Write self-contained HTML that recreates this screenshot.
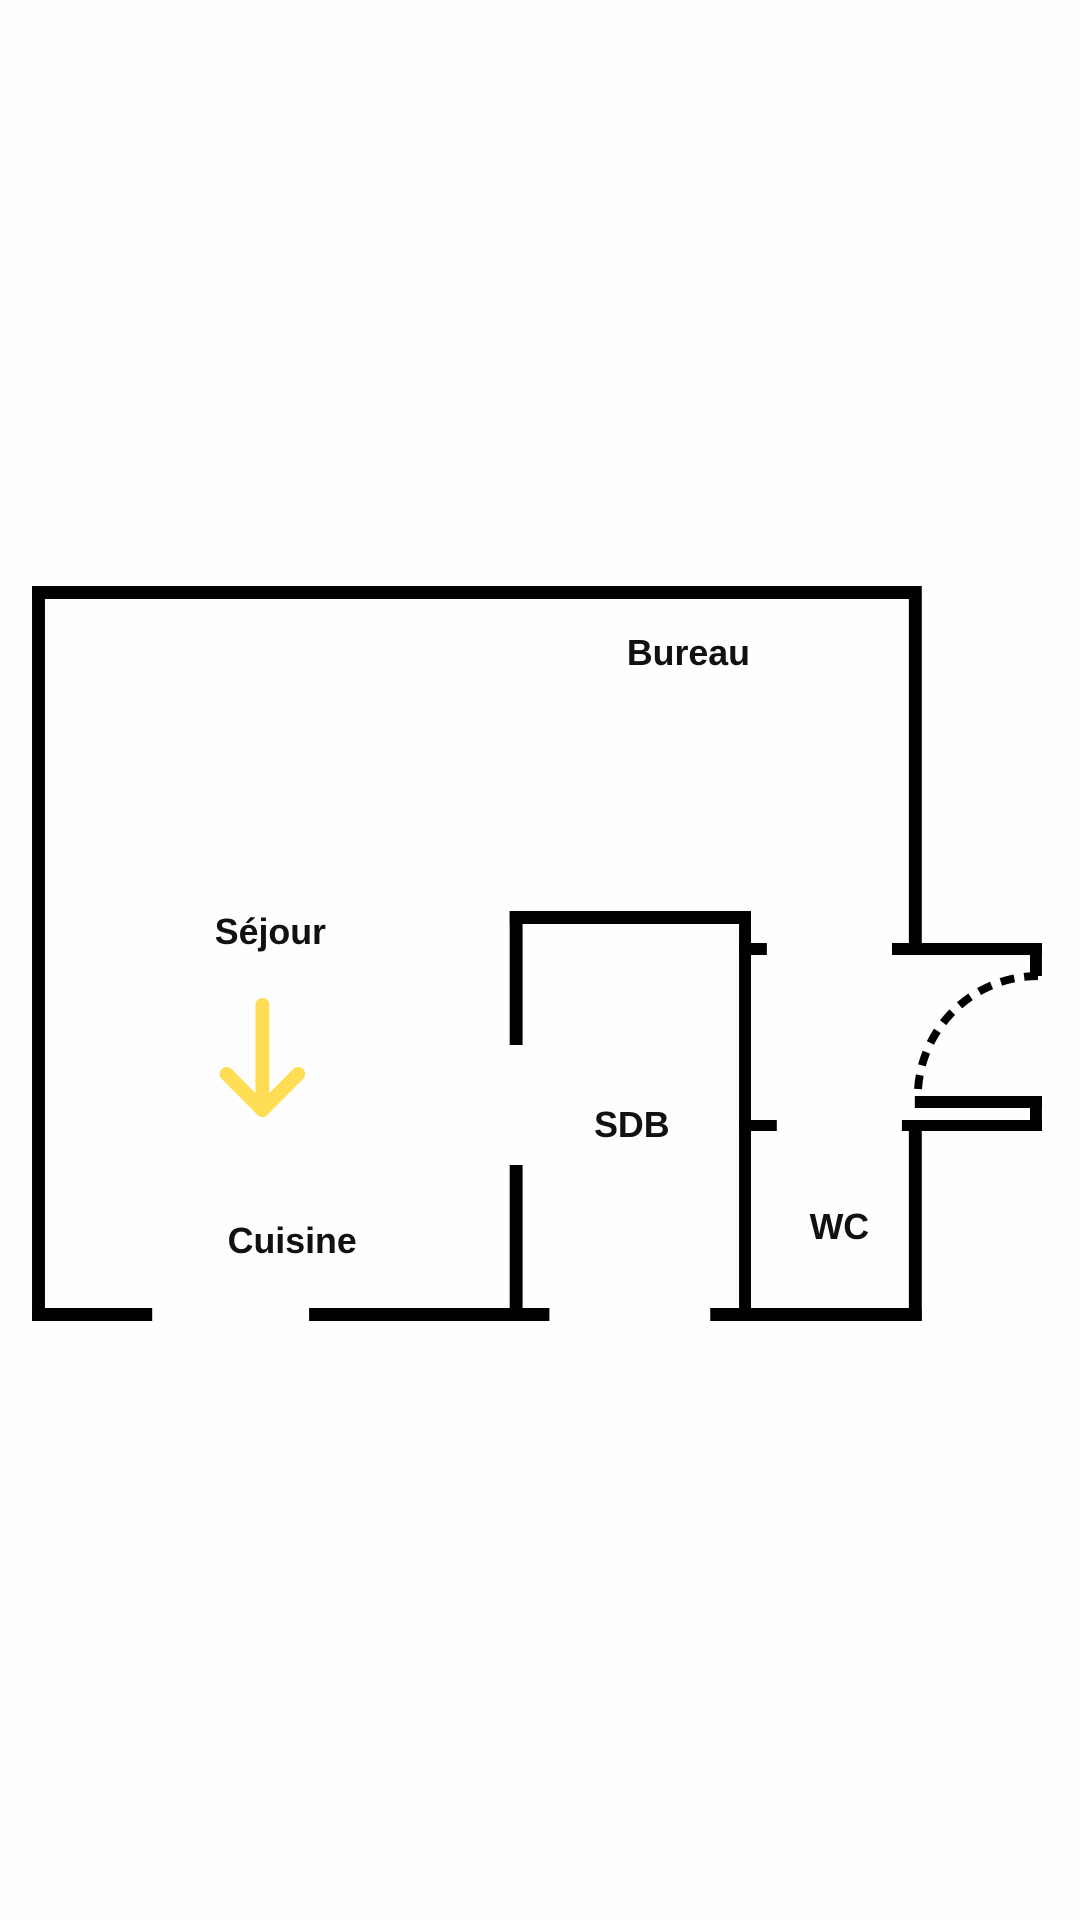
<!DOCTYPE html>
<html><head><meta charset="utf-8"><style>
html,body{margin:0;padding:0;background:#fff;}
svg{display:block}
text{font-family:"Liberation Sans",sans-serif;font-weight:bold;fill:#111;}
</style></head><body>
<svg width="1080" height="1920" viewBox="0 0 1080 1920" xmlns="http://www.w3.org/2000/svg">
<rect width="1080" height="1920" fill="#fefefe"/>
<g transform="translate(38 0) scale(0.993 1) translate(-38 0)">
<g fill="#000">
<rect x="32" y="586" width="889" height="13"/>
<rect x="32" y="586" width="13" height="735"/>
<rect x="915" y="586" width="13" height="363"/>
<rect x="915" y="1120" width="13" height="201"/>
<rect x="32" y="1308" width="121" height="13"/>
<rect x="311" y="1308" width="242" height="13"/>
<rect x="715" y="1308" width="213" height="13"/>
<rect x="513" y="911" width="243" height="13"/>
<rect x="513" y="911" width="13" height="134"/>
<rect x="513" y="1165" width="13" height="150"/>
<rect x="744" y="911" width="12" height="405"/>
<rect x="744" y="943" width="28" height="12"/>
<rect x="744" y="1120" width="38" height="11"/>
<rect x="898" y="943" width="151" height="12"/>
<rect x="1037" y="943" width="12" height="33"/>
<rect x="921" y="1096" width="128" height="12"/>
<rect x="1037" y="1096" width="12" height="35"/>
<rect x="908" y="1120" width="141" height="11"/>
</g>
<path d="M1045 976 A121 121 0 0 0 924 1095" fill="none" stroke="#000" stroke-width="8" stroke-dasharray="14 10"/>
<g stroke="#FFDD55" stroke-width="14" stroke-linecap="round" stroke-linejoin="round" fill="none">
<line x1="264" y1="1005" x2="264" y2="1108"/>
<polyline points="228,1074 264,1110 300,1074"/>
</g>
<g font-size="36">
<text x="693" y="665" text-anchor="middle">Bureau</text>
<text x="272" y="944" text-anchor="middle">Séjour</text>
<text x="294" y="1253" text-anchor="middle">Cuisine</text>
<text x="636" y="1137" text-anchor="middle">SDB</text>
<text x="845" y="1239" text-anchor="middle">WC</text>
</g>
</g>
</svg>
</body></html>
